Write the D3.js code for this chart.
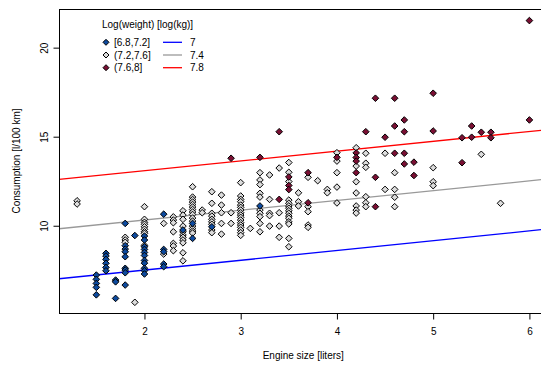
<!DOCTYPE html>
<html><head><meta charset="utf-8">
<script src="https://cdn.jsdelivr.net/npm/d3@7"></script>
<style>body{margin:0;background:#fff}svg{display:block}text{font-family:"Liberation Sans",Arial,sans-serif;fill:#000}</style>
</head><body><svg id="c" width="541" height="365"></svg>
<script>
// Group [6.8,7.2]
const blueX = [1.5,1.5,1.5,1.5,1.5, 1.6,1.6,1.6,1.6,1.6,1.6, 1.7,1.7,1.7,
  1.8,1.8,1.8,1.8,1.8,1.8,1.8,1.8,1.8, 1.9,
  2,2,2,2,2,2,2,2,2,2,2, 2.2,2.2,2.2,2.2,2.2, 2.4, 2.5,2.5, 2.7, 3.2];
const blueY = [7.23,6.99,6.76,6.54,6.12, 8.45,8.30,8.11,7.89,7.66,7.47, 6.95,6.85,5.92,
  10.13,8.88,8.69,8.54,8.26,7.61,7.51,7.36,6.67, 9.45,
  9.42,9.20,8.82,8.67,8.50,8.33,8.05,7.90,7.61,7.48,7.29, 10.65,8.67,8.54,7.85,7.70, 9.76, 10.13,9.29, 9.94, 11.11];
// Group (7.2,7.6]
const grayX = [1.3,1.3, 1.8,1.8,1.8, 1.9,
  2,2,2,2,2,2,2,2,2, 2.2,2.2,
  2.3,2.3,2.3,2.3,2.3,2.3,2.3,
  2.4,2.4,2.4,2.4,2.4,2.4,2.4,2.4,2.4,2.4,2.4,
  2.5,2.5,2.5,2.5,2.5,2.5,2.5,2.5,2.5,2.5,2.5,2.5,2.5,2.5,2.5,
  2.6,2.6, 2.7,2.7,2.7,2.7,2.7,2.7,2.7,2.7,2.7, 2.8,2.8,2.8,2.8,2.8, 2.9,2.9,
  3,3,3,3,3,3,3,3,3,3,3,3,3,3,3,3,3, 3.1,
  3.2,3.2,3.2,3.2,3.2,3.2,3.2,3.2,3.2,3.2, 3.3,3.3,3.3,3.3,3.3, 3.4,3.4,3.4,3.4,
  3.5,3.5,3.5,3.5,3.5,3.5,3.5,3.5,3.5,3.5,3.5,3.5,3.5,3.5,3.5,
  3.6,3.6,3.6, 3.7,3.7,3.7,3.7,3.7, 3.8, 3.9,3.9, 4,4,4,4,4,
  4.2,4.2,4.2,4.2,4.2,4.2,4.2, 4.3,4.3,4.3,4.3,4.3,4.3, 4.5,4.5, 4.6,4.6,4.6,4.6,
  5,5,5, 5.5, 5.7];
const grayY = [11.40,11.22, 9.35,9.20,9.07, 5.70,
  11.07,10.36,10.19,10.08,9.94,9.80,9.66,9.57,8.90, 10.13,8.41,
  10.50,10.32,10.17,9.66,9.01,8.86,8.60,
  10.84,10.60,10.36,9.98,9.66,9.48,9.35,9.20,9.04,8.48,8.03,
  12.19,11.61,11.47,11.33,11.19,11.05,10.91,10.77,10.63,10.43,10.26,9.98,9.84,9.70,9.59,
  10.88,10.73, 11.91,11.26,10.70,10.54,10.36,10.22,10.08,9.76,9.61, 11.72,11.16,10.73,10.13,9.53, 10.73,10.13,
  12.42,11.67,11.48,11.35,11.16,11.03,10.88,10.73,10.60,10.47,10.32,10.17,10.04,9.91,9.76,9.61,9.46, 9.85,
  12.98,12.57,12.31,11.82,11.61,10.88,10.70,10.51,10.13,9.66, 12.85,11.48,10.70,10.57,9.98, 13.24,10.73,9.98,9.35,
  13.55,13.00,12.48,11.44,11.26,11.11,10.98,10.84,10.70,10.54,10.42,10.22,10.10,9.29,8.82,
  11.85,11.35,11.11, 12.72,11.07,10.79,10.04,9.91, 12.53, 12.04,11.85, 14.10,13.63,12.98,12.17,11.28,
  14.38,13.35,12.47,11.84,11.11,10.88,10.71, 14.07,13.51,13.28,11.63,11.29,11.07, 14.07,12.04, 12.98,12.04,11.60,11.07,
  13.26,12.47,12.25, 14.01, 11.26];
// Group (7.6,8]
const redX = [2.9, 3.2, 3.4,3.4, 3.5,3.5,3.5, 3.7,3.7, 4, 4.2,4.2,4.2,4.2, 4.3, 4.4,4.4,4.4, 4.5,
  4.6,4.6,4.6, 4.7,4.7,4.7,4.7, 4.8,4.8, 5,5, 5.3,5.3, 5.4,5.4, 5.5, 5.6,5.6, 6,6];
const redY = [13.79, 13.84, 15.28,11.48, 12.74,12.26,12.03, 12.98,11.29, 13.84, 14.09,13.83,13.63,12.98, 15.28, 17.16,12.72,11.07, 14.97,
  17.16,15.60,14.07, 15.94,15.28,14.07,13.47, 13.57,12.82, 17.44,15.32, 14.94,13.54, 15.60,14.97, 15.25, 15.25,14.94, 21.52,15.94];

const groupLabels = ["[6.8,7.2]", "(7.2,7.6]", "(7.6,8]"];
const groupFills = ["#0d4a9e", "#dcdcdc", "#7a0f33"];
const lineLabels = ["7", "7.4", "7.8"];
const lineColors = ["#0000ff", "#999999", "#ff0000"];
const lineIntercepts = [6.41, 9.22, 11.99];
const lineSlope = 0.55;
const xTicks = [2,3,4,5,6];
const yTicks = [10,15,20];

const svg = d3.select("#c");
const L = 59, R = 547.5, T = 9, B = 313;
const x = d3.scaleLinear().domain([1.112, 6.188]).range([L, R]);
const y = d3.scaleLinear().domain([5.1, 22.17]).range([B, T]);

svg.append("defs").append("clipPath").attr("id","pc").append("rect")
  .attr("x",L).attr("y",T).attr("width",R-L).attr("height",B-T);

// regression lines
const lg = svg.append("g").attr("clip-path","url(#pc)");
lineIntercepts.forEach((a,i)=>{
  const x0 = x.domain()[0], x1 = x.domain()[1];
  lg.append("line").attr("x1",x(x0)).attr("y1",y(a+lineSlope*x0))
    .attr("x2",x(x1)).attr("y2",y(a+lineSlope*x1))
    .attr("stroke",lineColors[i]).attr("stroke-width",1.3);
});

const diamond = (cx,cy,s)=>`M${cx},${cy-s}L${cx+s},${cy}L${cx},${cy+s}L${cx-s},${cy}Z`;
const groups = [[blueX,blueY],[grayX,grayY],[redX,redY]];
const order = [1,0,2];
const pg = svg.append("g");
order.forEach(gi=>{
  const [xs,ys] = groups[gi];
  pg.selectAll(null).data(d3.range(xs.length)).enter().append("path")
    .attr("d",i=>diamond(x(xs[i]),y(ys[i]),3.3))
    .attr("fill",groupFills[gi]).attr("stroke","#000").attr("stroke-width",1);
});

// box
svg.append("rect").attr("x",L+0.5).attr("y",T+0.5).attr("width",R-L).attr("height",B-T)
  .attr("fill","none").attr("stroke","#000").attr("stroke-width",1);

// axes
const xa = svg.append("g").attr("transform",`translate(0,${B+0.5})`)
  .call(d3.axisBottom(x).tickValues(xTicks).tickSize(6).tickPadding(8).tickFormat(d3.format("d")));
const ya = svg.append("g").attr("transform",`translate(${L+0.5},0)`)
  .call(d3.axisLeft(y).tickValues(yTicks).tickSize(6).tickPadding(8).tickFormat(d3.format("d")));
[xa,ya].forEach(g=>{
  g.select(".domain").attr("stroke","#000");
  g.selectAll(".tick line").attr("stroke","#000");
  g.selectAll("text").attr("font-size",10).attr("font-family","Liberation Sans, Arial, sans-serif");
});
xa.selectAll(".tick text").attr("dy","0.71em").attr("y",14);
ya.selectAll(".tick text").attr("x",null).attr("dy",null)
  .attr("transform","translate(-15,0) rotate(-90)").attr("text-anchor","middle").attr("dominant-baseline","central");
xa.select(".domain").attr("d",`M${x(2)},0H${x(6)}`);
ya.select(".domain").attr("d",`M0,${y(10)}V${y(20)}`);

svg.append("text").attr("x",(L+R)/2).attr("y",355).attr("text-anchor","middle")
  .attr("dominant-baseline","central").attr("font-size",10).text("Engine size [liters]");
svg.append("text").attr("transform",`translate(16,${(T+B)/2}) rotate(-90)`).attr("text-anchor","middle")
  .attr("dominant-baseline","central").attr("font-size",10).text("Consumption [l/100 km]");

// legend
const leg = svg.append("g");
leg.append("text").attr("x",102).attr("y",24).attr("dominant-baseline","central").attr("font-size",10).text("Log(weight) [log(kg)]");
const rowsY = [42.3,55,67.7];
rowsY.forEach((ry,i)=>{
  leg.append("path").attr("d",diamond(106,ry,3)).attr("fill",groupFills[i]).attr("stroke","#000");
  leg.append("text").attr("x",114).attr("y",ry).attr("dominant-baseline","central").attr("font-size",10).text(groupLabels[i]);
  leg.append("line").attr("x1",163).attr("x2",182).attr("y1",ry).attr("y2",ry).attr("stroke",lineColors[i]).attr("stroke-width",1.3);
  leg.append("text").attr("x",190).attr("y",ry).attr("dominant-baseline","central").attr("font-size",10).text(lineLabels[i]);
});
</script></body></html>
